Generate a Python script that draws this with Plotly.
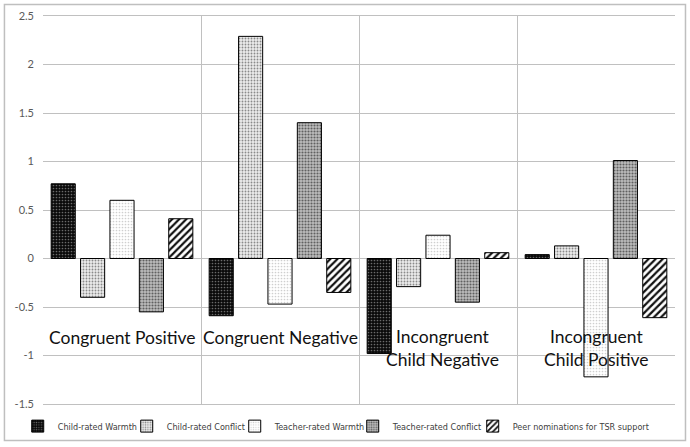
import plotly.graph_objects as go

groups = ["Congruent Positive", "Congruent Negative", "Incongruent Child Negative", "Incongruent Child Positive"]
group_labels = ["Congruent Positive", "Congruent Negative", "Incongruent<br>Child Negative", "Incongruent<br>Child Positive"]

series_names = ["Child-rated Warmth", "Child-rated Conflict", "Teacher-rated Warmth",
                "Teacher-rated Conflict", "Peer nominations for TSR support"]
child_warmth = [0.77, -0.59, -0.98, 0.04]
child_conflict = [-0.40, 2.29, -0.29, 0.13]
teacher_warmth = [0.60, -0.47, 0.24, -1.22]
teacher_conflict = [-0.55, 1.40, -0.45, 1.01]
peer_support = [0.41, -0.35, 0.06, -0.61]

y_ticks = [-1.5, -1, -0.5, 0, 0.5, 1, 1.5, 2, 2.5]

values = [child_warmth, child_conflict, teacher_warmth, teacher_conflict, peer_support]
patterns = [
    dict(shape=".", bgcolor="#0a0a0a", fgcolor="#6a6a6a", size=3, solidity=0.25),
    dict(shape=".", bgcolor="#ececec", fgcolor="#8a8a8a", size=3, solidity=0.3),
    dict(shape=".", bgcolor="#ffffff", fgcolor="#cfcfcf", size=3, solidity=0.25),
    dict(shape=".", bgcolor="#bdbdbd", fgcolor="#606060", size=3, solidity=0.4),
    dict(shape="/", bgcolor="#ffffff", fgcolor="#111111", size=5, solidity=0.45),
]
legend_widths = [64, 63, 73, 75, 140]

fig = go.Figure()
for name, vals, pat, lw in zip(series_names, values, patterns, legend_widths):
    fig.add_trace(go.Bar(
        x=groups, y=vals, name=name, legendwidth=lw,
        marker=dict(color=pat["bgcolor"], pattern=dict(fillmode="replace", **pat),
                    line=dict(color="#000000", width=1)),
    ))

for g, lab in zip(groups, group_labels):
    two = "<br>" in lab
    fig.add_annotation(x=g, y=-0.92 if two else -0.81, text=lab, showarrow=False,
                       xanchor="center", yanchor="middle", xshift=4 if g == groups[2] else 0,
                       font=dict(family="Lato, Carlito, Calibri, sans-serif", size=17.5, color="#111111"))

# outer chart border
fig.add_shape(type="rect", xref="paper", yref="paper",
              x0=-0.061, x1=1.0166, y0=-0.094, y1=1.0296,
              line=dict(color="#bfbfbf", width=1.5), fillcolor="rgba(0,0,0,0)", layer="below")

fig.update_layout(
    width=690, height=447,
    margin=dict(l=43, r=15, t=16, b=43, autoexpand=False),
    paper_bgcolor="white", plot_bgcolor="white",
    barmode="group", bargap=0.07, bargroupgap=0.18,
    font=dict(family="Lato, Carlito, Calibri, sans-serif", color="#595959"),
    xaxis=dict(showticklabels=False, tickson="boundaries", showgrid=True, gridcolor="#c0c0c0",
               gridwidth=1, ticks="", showline=True, linecolor="#c0c0c0", mirror=True, zeroline=False),
    yaxis=dict(range=[-1.5, 2.5], tickvals=y_ticks, ticktext=[f"{v:g}" for v in y_ticks],
               showgrid=True, gridcolor="#c0c0c0", gridwidth=1, zeroline=True, zerolinecolor="#c0c0c0",
               zerolinewidth=1, ticks="", ticklabelstandoff=8, tickfont=dict(size=11, color="#595959"),
               showline=False, automargin=False),
    legend=dict(orientation="h", x=-0.04, xanchor="left", y=-0.057, yanchor="middle",
                font=dict(family="Liberation Sans Narrow, DejaVu Sans Condensed, sans-serif", size=9, color="#404040"),
                itemwidth=30, tracegroupgap=0, traceorder="normal", bgcolor="rgba(0,0,0,0)"),
    showlegend=True,
)

fig.write_html("out.html", config={"displayModeBar": False},
               post_script="document.body.style.margin='0';document.body.style.padding='0';")
